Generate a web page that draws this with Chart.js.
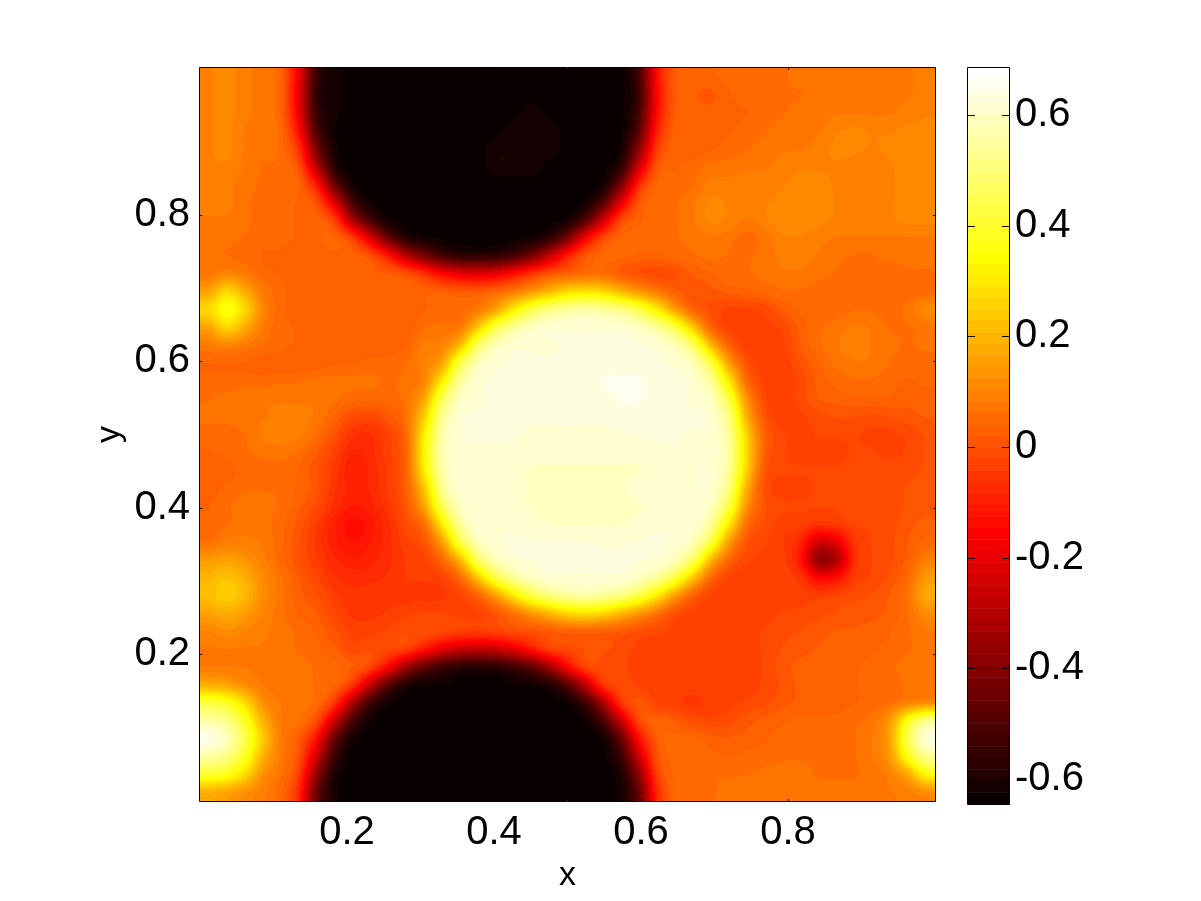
<!DOCTYPE html>
<html>
<head>
<meta charset="utf-8">
<title>Field</title>
<script src="https://cdn.jsdelivr.net/npm/chart.js@4/dist/chart.umd.min.js"></script>
<style>
	html, body { margin: 0; padding: 0; background: #fff; }
	#wrap { position: relative; width: 1201px; height: 901px; overflow: hidden; }
	canvas { position: absolute; left: 0; top: 0; }
</style>
</head>
<body>
<div id="wrap">
	<canvas id="campo" width="1201" height="901"></canvas>
	<canvas id="barra" width="1201" height="901"></canvas>
</div>
<script>
// tick labels
var xTicks = [0.2, 0.4, 0.6, 0.8];
var yTicks = [0.2, 0.4, 0.6, 0.8];
var barTicks = [-0.6, -0.4, -0.2, 0, 0.2, 0.4, 0.6];
var xLabel = 'x';
var yLabel = 'y';

// colour range of the bar
var zMin = -0.645;
var zMax = 0.685;
var nLevels = 64;

// field, in hundredths, first row is the top of the plot
var zRows = [
	[10,11,9,7,5, -18,-56,-62,-64,-64, -64,-64,-64,-64,-64, -64,-64,-64,-64,-64, -64,-64,-64,-64,-53, -13,3,3,4,5, 5,6,6,7,7, 7,7,8,8,8, 9],
	[10,11,9,7,5, -20,-58,-62,-64,-64, -64,-64,-64,-64,-64, -64,-64,-64,-64,-64, -64,-64,-64,-64,-55, -15,3,2,1,4, 5,5,6,6,7, 7,7,7,8,8, 9],
	[10,11,9,7,5, -18,-56,-62,-64,-64, -64,-64,-64,-64,-64, -64,-64,-64,-61,-64, -64,-64,-64,-64,-53, -13,3,3,3,4, 4,5,6,7,7, 8,8,8,8,9, 10],
	[10,11,8,7,6, -13,-52,-63,-64,-64, -64,-64,-64,-64,-64, -64,-64,-61,-61,-61, -64,-64,-64,-64,-49, -9,4,3,3,4, 5,6,7,7,8, 10,11,10,10,11, 11],
	[10,11,8,7,6, -5,-43,-62,-64,-64, -64,-64,-64,-64,-64, -64,-61,-61,-61,-61, -64,-64,-64,-63,-39, -3,4,3,4,5, 6,7,8,8,9, 11,11,10,11,11, 12],
	[10,10,8,6,6, 1,-30,-60,-64,-64, -64,-64,-64,-64,-64, -64,-61,-61,-61,-64, -64,-64,-64,-58,-25, 2,4,5,7,7, 8,8,9,10,10, 10,9,8,10,11, 12],
	[9,9,7,6,5, 5,-11,-46,-63,-64, -64,-64,-64,-64,-64, -64,-64,-64,-64,-64, -64,-64,-63,-43,-7, 5,5,6,9,9, 9,9,10,11,11, 10,9,9,10,11, 12],
	[9,9,7,5,5, 4,1,-22,-53,-63, -64,-64,-64,-64,-64, -64,-64,-64,-64,-64, -64,-63,-51,-20,2, 5,6,8,11,10, 9,10,11,12,12, 10,9,9,10,11, 12],
	[8,8,7,5,5, 4,4,-2,-33,-53, -63,-64,-64,-64,-64, -64,-64,-64,-64,-64, -63,-51,-25,-1,4, 5,6,8,11,10, 8,10,12,12,11, 10,10,10,10,11, 11],
	[8,7,6,5,5, 4,4,5,-2,-22, -47,-60,-63,-64,-64, -64,-64,-64,-63,-58, -43,-17,-1,5,5, 5,6,7,8,7, 5,7,10,10,9, 8,8,8,8,8, 8],
	[7,6,5,4,4, 3,3,4,4,1, -11,-30,-43,-53,-58, -59,-58,-53,-43,-28, -9,2,5,5,4, 4,5,6,7,6, 6,7,9,9,8, 7,6,6,7,7, 7],
	[7,10,8,5,4, 3,3,2,3,3, 3,1,-5,-15,-20, -22,-20,-13,-5,1, 3,5,5,1,-1, -2,-1,2,4,6, 6,7,8,8,7, 6,5,5,5,6, 6],
	[16,28,18,8,5, 3,3,2,2,2, 3,3,4,4,3, 3,5,8,13,20, 27,29,27,20,13, 8,2,0,1,3, 4,5,6,6,5, 5,5,5,5,5, 5],
	[28,38,28,10,5, 3,2,2,2,3, 3,3,4,5,5, 7,15,31,44,52, 55,57,55,52,44, 31,15,3,-1,-3, -3,-2,2,5,5, 5,6,6,5,7, 12],
	[16,28,18,8,5, 4,3,3,2,2, 3,3,6,7,7, 23,44,55,60,62, 62,62,62,62,60, 55,44,23,3,-3, -3,-3,-2,3,6, 7,9,8,6,6, 7],
	[8,10,8,6,5, 4,4,3,2,3, 3,4,9,9,20, 48,59,62,62,62, 63,63,63,63,63, 62,59,48,20,3, -4,-4,-3,2,6, 8,10,8,7,6, 7],
	[4,4,4,3,2, 2,3,4,4,5, 5,6,10,15,44, 59,62,63,63,63, 63,64,64,64,64, 63,62,59,44,15, 0,-4,-4,0,4, 7,8,8,6,5, 5],
	[5,5,5,5,6, 6,7,7,7,7, 6,7,9,31,55, 62,63,64,64,64, 64,64,65,65,65, 64,63,62,55,31, 4,-3,-4,-2,3, 5,6,6,5,4, 5],
	[6,7,8,8,8, 8,8,7,5,5, 5,7,16,46,60, 62,63,64,64,64, 64,64,64,65,65, 64,63,62,60,44, 12,-2,-4,-1,2, 3,4,4,4,3, 3],
	[7,7,8,8,9, 9,8,4,-1,-2, 1,6,24,54,62, 63,63,63,63,63, 63,63,63,64,64, 64,63,63,62,52, 18,0,-4,-3,-1, 0,0,-1,0,1, 2],
	[5,5,6,9,10, 9,6,0,-6,-7, -3,4,31,57,62, 63,63,63,62,62, 62,62,62,62,63, 63,63,62,62,55, 25,3,-2,-3,-2, -2,-2,-3,-3,-2, 0],
	[4,5,6,7,7, 6,2,-3,-9,-7, -3,3,33,58,62, 62,62,62,61,61, 61,61,61,61,61, 62,62,62,62,56, 27,2,-2,-3,-3, -3,-2,-2,-3,-2, 0],
	[2,3,5,5,6, 4,0,-5,-11,-8, -4,3,31,57,62, 62,62,61,60,60, 60,60,60,60,60, 61,61,62,62,55, 25,0,-2,-2,-2, -2,-2,-2,-1,-1, 0],
	[3,5,6,6,6, 4,1,-6,-9,-8, -4,2,22,54,62, 62,62,61,60,60, 60,60,60,60,61, 61,62,62,62,52, 18,-1,-3,-3,-2, -2,-2,-2,-1,0, 1],
	[4,6,7,7,6, 3,-1,-7,-11,-9, -5,1,16,46,60, 62,62,61,60,60, 60,60,60,60,60, 61,62,62,60,44, 12,0,-2,-2,-2, -2,-1,-1,-1,0, 1],
	[5,6,7,7,5, 1,-4,-10,-14,-12, -7,-1,5,31,55, 62,62,62,61,60, 60,60,60,60,61, 62,62,62,55,31, 5,-1,-3,-3,-5, -4,-2,-2,-1,1, 3],
	[6,9,9,8,5, 0,-5,-10,-13,-11, -7,-3,0,15,44, 59,62,63,63,63, 63,63,62,62,63, 63,62,59,44,15, 0,-2,-4,-8,-25, -20,-5,-2,-1,2, 5],
	[14,16,13,9,5, 0,-4,-8,-10,-9, -7,-4,-3,4,20, 48,59,62,63,63, 63,63,63,63,63, 62,59,48,20,4, -2,-3,-3,-12,-40, -33,-6,-2,-1,3, 9],
	[20,23,19,11,7, 2,-2,-6,-7,-7, -6,-4,-4,-3,4, 23,44,55,60,62, 62,62,62,62,60, 55,44,23,4,-3, -4,-3,-3,-5,-16, -14,-4,-2,0,5, 15],
	[22,25,21,12,7, 3,0,-4,-6,-5, -5,-5,-5,-5,-3, 3,15,31,44,52, 55,57,55,52,44, 31,15,2,-3,-4, -4,-4,-3,-3,-3, -2,-1,0,2,7, 18],
	[16,19,15,10,7, 4,2,-2,-5,-5, -4,-3,-2,-2,-3, -3,0,6,13,20, 27,29,27,20,13, 6,-1,-3,-3,-3, -3,-3,-2,-2,-1, 0,1,1,3,6, 12],
	[10,12,10,9,7, 6,4,0,-3,-3, -2,0,0,-1,-2, -3,-2,0,0,1, 2,2,2,1,-1, -2,-3,-3,-3,-3, -3,-2,-1,0,1, 2,2,3,4,6, 8],
	[8,8,8,8,7, 6,5,3,-2,0, -1,-2,-11,-20,-26, -28,-26,-20,-11,-2, -1,0,0,-1,-3, -3,-3,-3,-3,-3, -3,-2,0,1,2, 3,3,4,5,6, 7],
	[8,8,8,8,7, 7,6,5,3,-1, -15,-35,-48,-55,-59, -60,-59,-55,-48,-35, -15,-1,-1,-2,-3, -3,-3,-3,-3,-4, -4,-2,1,3,3, 3,4,5,6,7, 8],
	[18,16,11,8,7, 7,6,5,-4,-28, -50,-61,-63,-63,-64, -64,-64,-63,-63,-61, -50,-28,-4,-1,-3, -3,-3,-3,-3,-3, -3,-2,0,3,3, 3,4,5,5,7, 8],
	[43,40,28,12,8, 7,6,-4,-32,-55, -63,-64,-64,-64,-64, -64,-64,-64,-64,-64, -63,-55,-32,-4,1, -3,-4,-5,-4,-3, -2,-1,1,2,3, 3,4,5,6,8, 10],
	[56,52,40,19,8, 7,0,-26,-52,-63, -64,-64,-64,-64,-64, -64,-64,-64,-64,-64, -64,-63,-52,-26,0, 4,2,-1,-2,-1, 1,3,4,5,5, 5,6,7,14,38, 54],
	[66,60,45,24,8, 3,-13,-46,-63,-64, -64,-64,-64,-64,-64, -64,-64,-64,-64,-64, -64,-64,-63,-46,-13, 3,5,5,3,2, 3,4,5,5,5, 6,6,8,16,46, 64],
	[56,52,40,19,8, 1,-25,-55,-64,-64, -64,-64,-64,-64,-64, -64,-64,-64,-64,-64, -64,-64,-64,-55,-25, 1,5,6,5,4, 5,5,6,6,6, 6,6,8,14,38, 54],
	[41,38,28,12,7, -2,-38,-61,-64,-64, -64,-64,-64,-64,-64, -64,-64,-64,-64,-64, -64,-64,-64,-61,-38, -2,5,6,6,6, 6,7,7,7,6, 6,6,7,9,17, 35],
	[18,16,12,9,5, -7,-46,-62,-64,-64, -64,-64,-64,-64,-64, -64,-64,-64,-64,-64, -64,-64,-64,-62,-46, -7,5,6,6,7, 8,8,8,8,7, 7,7,7,8,9, 11]
];

var fonte = "'Liberation Sans', Arial, sans-serif";

function corHot(z) {
	var t = (z - zMin) / (zMax - zMin);
	var n = Math.floor(t * nLevels);
	if (n < 0) n = 0;
	if (n > nLevels - 1) n = nLevels - 1;
	var r = Math.min(1, (n + 1) / 24);
	var g = n < 24 ? 0 : Math.min(1, (n - 23) / 24);
	var b = n < 48 ? 0 : (n - 47) / 16;
	return [Math.round(r * 255), Math.round(g * 255), Math.round(b * 255)];
}

// the cells are painted as grey on a small canvas, scaled up smooth to the plot
// box and then put through the colormap, like shading interp
var pluginCampo = {
	id: 'pluginCampo',
	beforeDatasetsDraw: function(chart) {
		var pontos = chart.data.datasets[0].data;
		var nl = zRows.length, nc = zRows[0].length;
		var sx = chart.scales.x, sy = chart.scales.y;
		var esq = Math.round(sx.getPixelForValue(0));
		var dir = Math.round(sx.getPixelForValue(1));
		var topo = Math.round(sy.getPixelForValue(1));
		var base = Math.round(sy.getPixelForValue(0));
		var larg = dir - esq, alt = base - topo;

		var peq = document.createElement('canvas');
		peq.width = nc; peq.height = nl;
		var cp = peq.getContext('2d');
		var img = cp.createImageData(nc, nl);
		pontos.forEach(function(p) {
			var k = (p.lin * nc + p.col) * 4;
			var g = Math.round((p.z - zMin) / (zMax - zMin) * 255);
			img.data[k] = img.data[k + 1] = img.data[k + 2] = g;
			img.data[k + 3] = 255;
		});
		cp.putImageData(img, 0, 0);

		var grande = document.createElement('canvas');
		grande.width = larg; grande.height = alt;
		var cg = grande.getContext('2d', { willReadFrequently: true });
		cg.imageSmoothingEnabled = true;
		cg.imageSmoothingQuality = 'high';
		cg.drawImage(peq, 0, 0, larg, alt);
		var saida = cg.getImageData(0, 0, larg, alt);
		for (var i = 0; i < saida.data.length; i += 4) {
			var z = zMin + saida.data[i] / 255 * (zMax - zMin);
			var c = corHot(z);
			saida.data[i] = c[0];
			saida.data[i + 1] = c[1];
			saida.data[i + 2] = c[2];
			saida.data[i + 3] = 255;
		}
		chart.ctx.putImageData(saida, esq, topo);
	}
};

// box round the plot and short ticks on the inside
function pluginCaixa(tamX, tamY) {
	return {
		id: 'pluginCaixa',
		afterDraw: function(chart) {
			var ctx = chart.ctx, a = chart.chartArea;
			ctx.save();
			ctx.strokeStyle = '#000';
			ctx.lineWidth = 1;
			ctx.beginPath();
			ctx.rect(Math.round(a.left) - 0.5, Math.round(a.top) - 0.5, Math.round(a.right - a.left) + 1, Math.round(a.bottom - a.top) + 1);
			if (tamX > 0) {
				chart.scales.x.ticks.forEach(function(t) {
					var px = Math.round(chart.scales.x.getPixelForValue(t.value)) + 0.5;
					ctx.moveTo(px, a.bottom); ctx.lineTo(px, a.bottom - tamX);
					ctx.moveTo(px, a.top); ctx.lineTo(px, a.top + tamX);
				});
			}
			chart.scales.y.ticks.forEach(function(t) {
				var py = Math.round(chart.scales.y.getPixelForValue(t.value)) + 0.5;
				ctx.moveTo(a.left, py); ctx.lineTo(a.left + tamY, py);
				ctx.moveTo(a.right, py); ctx.lineTo(a.right - tamY, py);
			});
			ctx.stroke();
			ctx.restore();
		}
	};
}

function construirCampo() {
	var pontos = [];
	zRows.forEach(function(linha, l) {
		linha.forEach(function(v, c) {
			pontos.push({
				x: (c + 0.5) / linha.length,
				y: 1 - (l + 0.5) / zRows.length,
				z: v / 100,
				lin: l,
				col: c
			});
		});
	});

	new Chart(document.getElementById('campo'), {
		type: 'scatter',
		data: { datasets: [{ label: 'campo', data: pontos, pointRadius: 0 }] },
		options: {
			responsive: false,
			animation: false,
			layout: { padding: { left: 0, top: 68, right: 266, bottom: 0 } },
			plugins: { legend: { display: false }, tooltip: { enabled: false } },
			scales: {
				x: {
					type: 'linear', min: 0, max: 1,
					grid: { display: false, drawTicks: false }, border: { display: false },
					afterBuildTicks: function(s) { s.ticks = xTicks.map(function(v) { return { value: v }; }); },
					afterFit: function(s) { s.height = 100; },
					ticks: { autoSkip: false, maxRotation: 0, padding: 8, color: '#000', font: { family: fonte, size: 40 }, callback: function(v) { return String(v); } },
					title: { display: true, text: xLabel, color: '#000', font: { family: fonte, size: 34 }, padding: { top: 0, bottom: 5 } }
				},
				y: {
					type: 'linear', min: 0, max: 1,
					grid: { display: false, drawTicks: false }, border: { display: false },
					afterBuildTicks: function(s) { s.ticks = yTicks.map(function(v) { return { value: v }; }); },
					afterFit: function(s) { s.width = 200; },
					ticks: { autoSkip: false, padding: 10, color: '#000', font: { family: fonte, size: 40 }, callback: function(v) { return String(v); } },
					title: { display: true, text: yLabel, color: '#000', font: { family: fonte, size: 34 }, padding: { top: 89, bottom: 0 } }
				}
			}
		},
		plugins: [pluginCampo, pluginCaixa(2, 2)]
	});
}

function construirBarra() {
	var conjuntos = [];
	for (var i = 0; i < nLevels; i++) {
		var lo = zMin + i * (zMax - zMin) / nLevels;
		var hi = zMin + (i + 1) * (zMax - zMin) / nLevels;
		var c = corHot((lo + hi) / 2);
		conjuntos.push({
			data: [[lo, hi]],
			backgroundColor: 'rgb(' + c.join(',') + ')',
			borderWidth: 0,
			barPercentage: 1,
			categoryPercentage: 1
		});
	}

	new Chart(document.getElementById('barra'), {
		type: 'bar',
		data: { labels: ['barra'], datasets: conjuntos },
		options: {
			responsive: false,
			animation: false,
			layout: { padding: { left: 968, top: 68, right: 0, bottom: 97 } },
			plugins: { legend: { display: false }, tooltip: { enabled: false } },
			scales: {
				x: {
					stacked: true, display: false,
					grid: { display: false }
				},
				y: {
					position: 'right', min: zMin, max: zMax,
					grid: { display: false, drawTicks: false }, border: { display: false },
					afterBuildTicks: function(s) { s.ticks = barTicks.map(function(v) { return { value: v }; }); },
					afterFit: function(s) { s.width = 192; },
					ticks: { autoSkip: false, padding: 6, color: '#000', font: { family: fonte, size: 40 }, callback: function(v) { return String(v); } }
				}
			}
		},
		plugins: [pluginCaixa(0, 7)]
	});
}

construirCampo();
construirBarra();
</script>
</body>
</html>
